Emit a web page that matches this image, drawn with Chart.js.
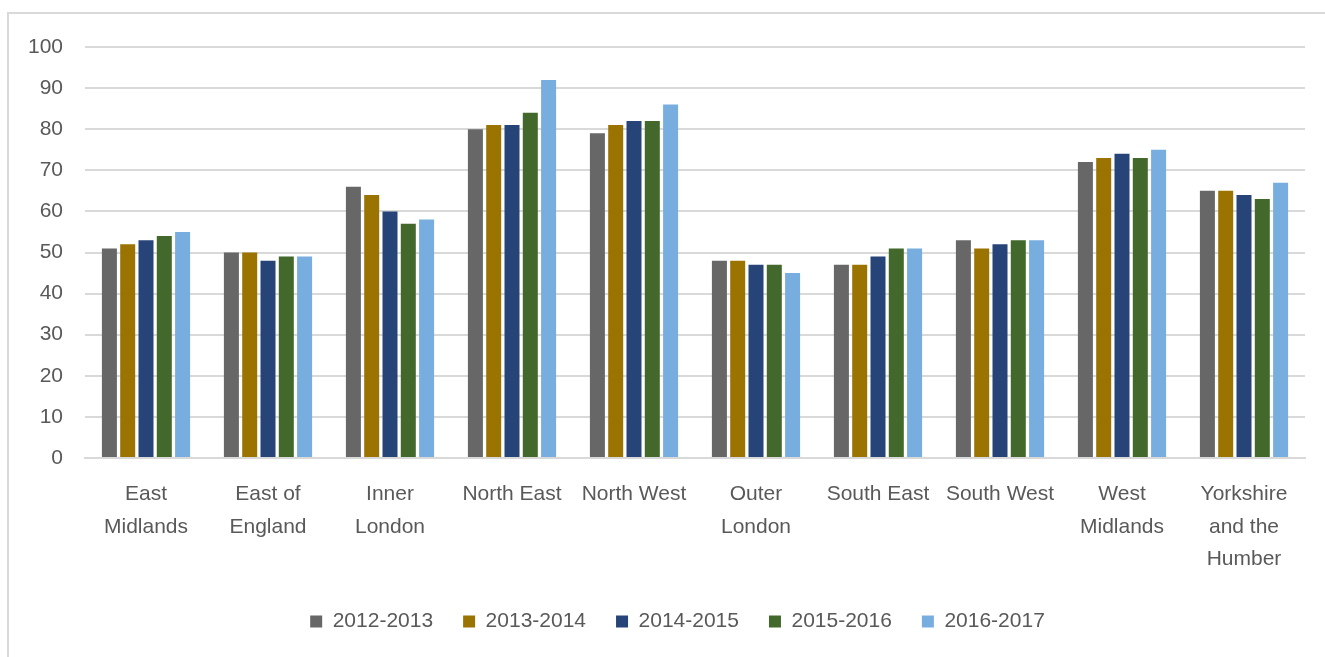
<!DOCTYPE html>
<html>
<head>
<meta charset="utf-8">
<script src="https://cdn.jsdelivr.net/npm/chart.js@4.4.0/dist/chart.umd.min.js"></script>
<style>
  html, body { margin: 0; padding: 0; background: #fff; overflow: hidden; }
  #frame { position: absolute; left: 7px; top: 12px; width: 1400px; height: 700px;
           border-left: 2px solid #d9d9d9; border-top: 2px solid #d9d9d9; }
  #wrap { position: absolute; left: 0; top: 0; width: 1325px; height: 657px; }
</style>
</head>
<body>
<div id="frame"></div>
<div id="wrap"><canvas id="c" width="1325" height="657"></canvas></div>
<script>
const categories = [
  ["East", "Midlands"],
  ["East of", "England"],
  ["Inner", "London"],
  "North East",
  "North West",
  ["Outer", "London"],
  "South East",
  "South West",
  ["West", "Midlands"],
  ["Yorkshire", "and the", "Humber"]
];
const seriesNames = ["2012-2013", "2013-2014", "2014-2015", "2015-2016", "2016-2017"];
const s2012_2013 = [51, 50, 66, 80, 79, 48, 47, 53, 72, 65];
const s2013_2014 = [52, 50, 64, 81, 81, 48, 47, 51, 73, 65];
const s2014_2015 = [53, 48, 60, 81, 82, 47, 49, 52, 74, 64];
const s2015_2016 = [54, 49, 57, 84, 82, 47, 51, 53, 73, 63];
const s2016_2017 = [55, 49, 58, 92, 86, 45, 51, 53, 75, 67];
const seriesColors = ["#676767", "#9b7300", "#264478", "#43682b", "#78aedf"];
const yTicks = [0, 10, 20, 30, 40, 50, 60, 70, 80, 90, 100];

const allSeries = [s2012_2013, s2013_2014, s2014_2015, s2015_2016, s2016_2017];
const FONT = "'Liberation Sans', Arial, sans-serif";
const TEXT = "#595959";

const legendShift = {
  id: "legendShift",
  afterLayout(chart) {
    const lg = chart.legend;
    if (lg) { lg.left += 15; lg.right += 15; }
  }
};

new Chart(document.getElementById("c"), {
  type: "bar",
  data: {
    labels: categories,
    datasets: allSeries.map((d, i) => ({
      label: seriesNames[i],
      data: d,
      backgroundColor: seriesColors[i],
      borderWidth: 0,
      categoryPercentage: 0.75,
      barPercentage: 0.82
    }))
  },
  plugins: [legendShift],
  options: {
    responsive: false,
    animation: false,
    layout: { padding: { left: 20, right: 20, top: 47, bottom: 15 } },
    plugins: {
      tooltip: { enabled: false },
      legend: {
        position: "bottom",
        labels: {
          boxWidth: 12,
          boxHeight: 12,
          padding: 30,
          color: TEXT,
          font: { family: FONT, size: 21 }
        }
      }
    },
    scales: {
      x: {
        grid: { display: false, drawTicks: false },
        border: { display: true, color: "#d9d9d9", width: 2 },
        ticks: {
          color: TEXT,
          font: { family: FONT, size: 21, lineHeight: 1.55 },
          padding: 20,
          maxRotation: 0,
          autoSkip: false
        },
        afterFit: (s) => { s.height = 123; }
      },
      y: {
        min: 0,
        max: 100,
        afterBuildTicks: (s) => { s.ticks = yTicks.map(v => ({ value: v })); },
        grid: { color: "#d9d9d9", lineWidth: 2, drawTicks: false },
        border: { display: false },
        ticks: {
          color: TEXT,
          font: { family: FONT, size: 21 },
          padding: 22
        },
        afterFit: (s) => { s.width = 65; }
      }
    }
  }
});
</script>
</body>
</html>
